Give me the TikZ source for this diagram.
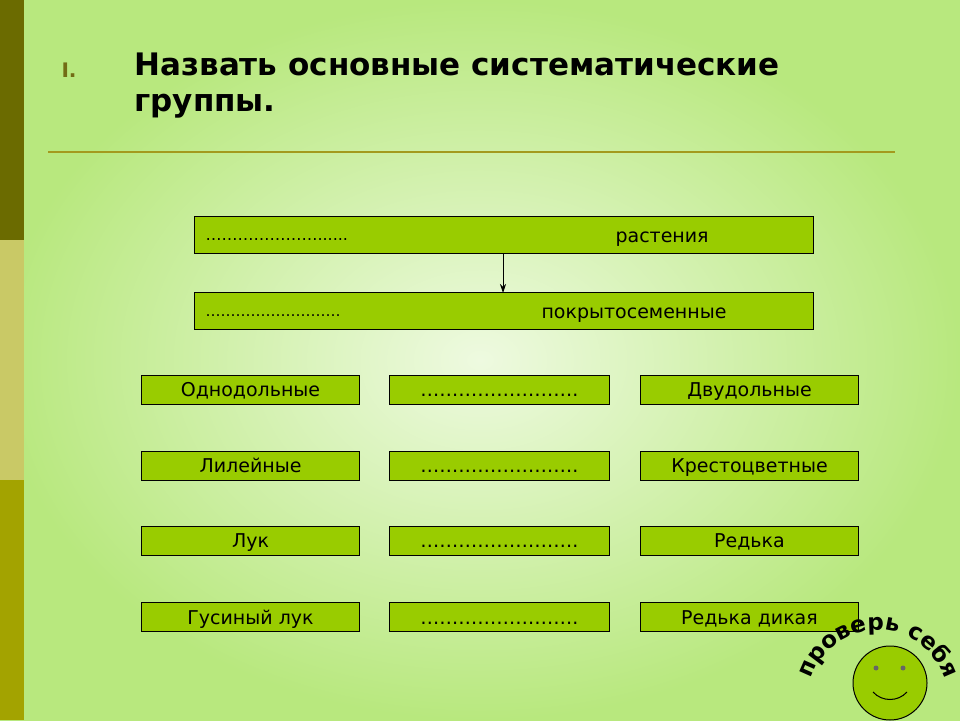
\documentclass[tikz,border=0pt]{standalone}
\usepackage{fontspec}
\setmainfont{DejaVu Sans}
\usetikzlibrary{decorations.text,arrows.meta}
\definecolor{boxg}{HTML}{99CC00}
\definecolor{bgout}{HTML}{B8E87E}
\definecolor{bgin}{HTML}{EEFAE0}
\definecolor{bar1}{HTML}{6B6B00}
\definecolor{bar2}{HTML}{C9C966}
\definecolor{bar3}{HTML}{A3A300}
\definecolor{rule}{HTML}{A39A1E}
\begin{document}
\begin{tikzpicture}[x=1pt,y=1pt,
  gbox/.style={draw=black,line width=1pt,fill=boxg,inner sep=0pt,text height=17pt,text depth=3pt,font=\fontsize{19}{22}\selectfont}]
\useasboundingbox (0,0) rectangle (960,720);
\shade[inner color=bgin,outer color=bgout] (0,0) rectangle (960,720);
\fill[bar1] (0,480) rectangle (24,720);
\fill[bar2] (0,240) rectangle (24,480);
\fill[bar3] (0,0) rectangle (24,240);
\node[anchor=west,text=rule!70!black,font=\fontsize{20}{22}\selectfont\bfseries\rmfamily] (num) at (58,650) {I.};
\node[anchor=north west,align=left,font=\fontsize{31}{36}\selectfont\bfseries] (title) at (131,671) {Назвать основные систематические\\группы.};
\draw[rule,line width=1.5pt] (48,568) -- (895,568);
% top boxes
\node[gbox,minimum width=619,minimum height=37,anchor=south west] (b1) at (194,466) {};
\node[anchor=west,font=\fontsize{16}{18}\selectfont] at (202,480) {…………………......};
\node[anchor=west,font=\fontsize{19}{22}\selectfont,text height=17pt,text depth=3pt] at (612,484.5) {растения};
\node[gbox,minimum width=619,minimum height=37,anchor=south west] (b2) at (194,390) {};
\node[anchor=west,font=\fontsize{15}{18}\selectfont] at (202,404) {………………………};
\node[anchor=west,font=\fontsize{19}{22}\selectfont,text height=17pt,text depth=3pt] at (538,408.5) {покрытосеменные};
\draw[-{Stealth[length=9pt,width=6pt]},line width=0.8pt] (503,466) -- (503,427);
% grid
\foreach \y/\a/\c [count=\i] in {315/Однодольные/Двудольные,239/Лилейные/Крестоцветные,164/Лук/Редька,88/Гусиный лук/Редька дикая}{
  \node[gbox,minimum width=218,minimum height=29,anchor=south west] (l\i) at (141,\y) {\a};
  \node[gbox,minimum width=220,minimum height=29,anchor=south west] (m\i) at (389,\y) {…………………….};
  \node[gbox,minimum width=218,minimum height=29,anchor=south west] (r\i) at (640,\y) {\c};
}
% smiley
\node[circle,draw=black,line width=1pt,fill=boxg,minimum size=74] (smile) at (890,37) {};
\fill[black!60] (876,52) circle (2.5) (903,52) circle (2.5);
\draw[line width=1pt] (873,28) .. controls (882,18) and (898,18) .. (907,28);
\path[decorate,decoration={text along path,text align=center,
  text={|\fontsize{23}{26}\selectfont\bfseries|проверь себя}}]
  (878,20) ++(168:70) arc (168:12:70);
\end{tikzpicture}
\end{document}
